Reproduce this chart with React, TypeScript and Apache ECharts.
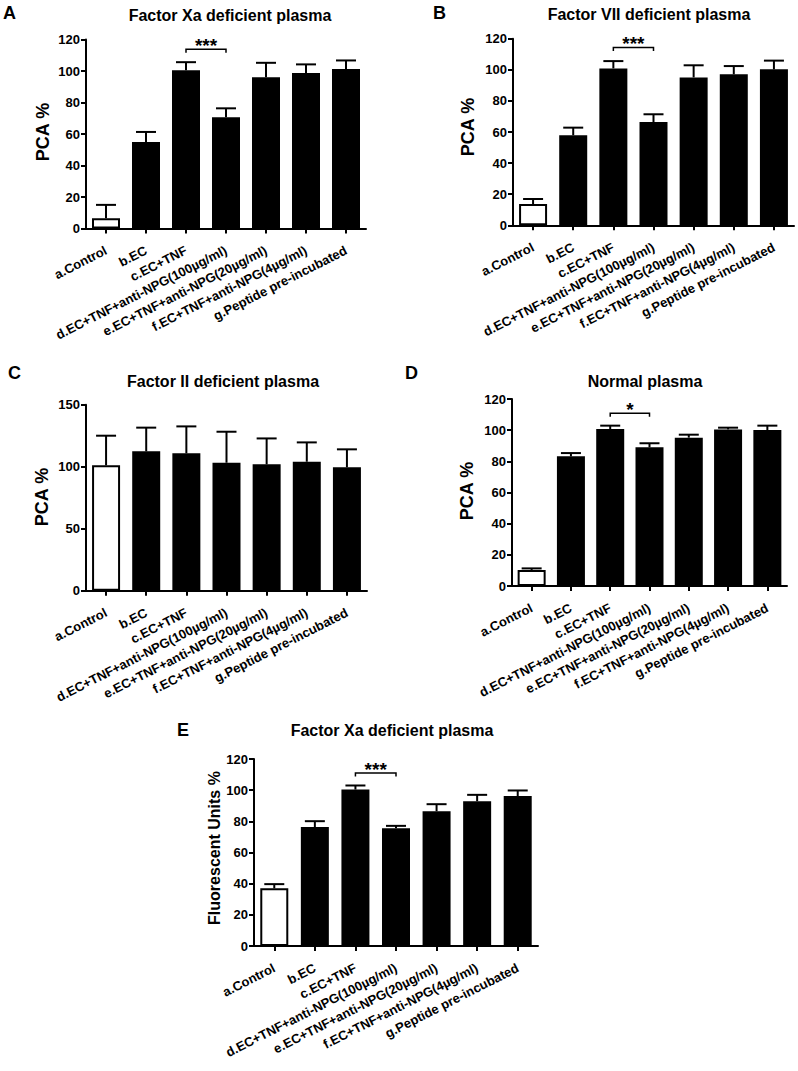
import React, { useEffect, useRef } from "react";
import * as echarts from "echarts";

const categories = [
  "a.Control",
  "b.EC",
  "c.EC+TNF",
  "d.EC+TNF+anti-NPG(100\u00B5g/ml)",
  "e.EC+TNF+anti-NPG(20\u00B5g/ml)",
  "f.EC+TNF+anti-NPG(4\u00B5g/ml)",
  "g.Peptide pre-incubated",
];

const meansA = [6.5, 54.9, 100.4, 70.6, 96.1, 98.7, 101.2];
const errsA = [8.5, 6.4, 5.2, 5.7, 9.1, 5.5, 5.5];
const meansB = [13.7, 57.9, 100.9, 66.4, 95.1, 97.1, 100.3];
const errsB = [3.2, 4.9, 4.7, 5.0, 7.8, 5.3, 5.6];
const meansC = [101.1, 112.4, 110.8, 103.2, 101.9, 104.0, 99.5];
const errsC = [23.9, 19.1, 21.7, 25.0, 20.9, 15.6, 14.5];
const meansD = [10.3, 83.2, 100.7, 89.0, 95.2, 100.5, 100.1];
const errsD = [1.0, 2.1, 2.2, 2.6, 1.9, 1.1, 2.8];
const meansE = [37.0, 76.3, 100.4, 75.6, 86.5, 92.9, 96.2];
const errsE = [2.7, 3.8, 2.6, 1.5, 4.5, 4.1, 3.6];

// significance brackets: [fromIndex, toIndex, level]
const bracketA = [2, 3, 113.8];
const bracketB = [2, 3, 114.4];
const bracketD = [2, 3, 110.8];
const bracketE = [2, 3, 111.0];
const starsA = "***";
const starsB = "***";
const starsD = "*";
const starsE = "***";

const yMaxes = [120, 120, 150, 120, 120];
const yIntervals = [20, 20, 50, 20, 20];

const panelTitles = [
  "Factor Xa deficient plasma",
  "Factor VII deficient plasma",
  "Factor II deficient plasma",
  "Normal plasma",
  "Factor Xa deficient plasma",
];
const panelLetters = ["A", "B", "C", "D", "E"];
const yNames = ["PCA %", "PCA %", "PCA %", "PCA %", "Fluorescent Units %"];

const FONT = "Liberation Sans, Arial, Helvetica, sans-serif";

export default function App() {
  const ref = useRef<HTMLDivElement>(null);

  useEffect(() => {
    if (!ref.current) return;
    const chart = echarts.init(ref.current, undefined, { renderer: "svg" });

    const grids = [
      { left: 86, top: 39.5, width: 280, height: 189 },
      { left: 513, top: 38.7, width: 281, height: 186.6 },
      { left: 86, top: 404.7, width: 281, height: 186 },
      { left: 512, top: 399, width: 275, height: 187 },
      { left: 254, top: 759, width: 284, height: 187 },
    ];

    const means = [meansA, meansB, meansC, meansD, meansE];
    const errs = [errsA, errsB, errsC, errsD, errsE];
    const brackets: any[] = [
      [0, bracketA, starsA],
      [1, bracketB, starsB],
      [3, bracketD, starsD],
      [4, bracketE, starsE],
    ];

    const xAxes = grids.map((_, gi) => ({
      type: "category",
      gridIndex: gi,
      data: categories,
      boundaryGap: true,
      axisLine: { show: true, lineStyle: { color: "#000", width: 2 } },
      axisTick: {
        show: true,
        alignWithLabel: true,
        length: 5,
        lineStyle: { color: "#000", width: 2 },
      },
      axisLabel: {
        interval: 0,
        rotate: 27,
        margin: 21,
        color: "#000",
        fontFamily: FONT,
        fontWeight: "bold",
        fontSize: 13,
      },
      splitLine: { show: false },
    }));

    const yAxes = grids.map((_, gi) => ({
      type: "value",
      gridIndex: gi,
      min: 0,
      max: yMaxes[gi],
      interval: yIntervals[gi],
      axisLine: { show: true, lineStyle: { color: "#000", width: 2 } },
      axisTick: { show: true, length: 5, lineStyle: { color: "#000", width: 2 } },
      axisLabel: {
        margin: 6,
        color: "#000",
        fontFamily: FONT,
        fontWeight: "bold",
        fontSize: 13,
      },
      splitLine: { show: false },
    }));

    const series: any[] = [];
    grids.forEach((_, gi) => {
      series.push({
        type: "bar",
        xAxisIndex: gi,
        yAxisIndex: gi,
        barWidth: 28,
        data: means[gi].map((v, i) =>
          i === 0
            ? { value: v, itemStyle: { color: "#fff", borderColor: "#000", borderWidth: 2 } }
            : { value: v, itemStyle: { color: "#000" } }
        ),
      });
      series.push({
        type: "custom",
        xAxisIndex: gi,
        yAxisIndex: gi,
        clip: false,
        z: 3,
        data: means[gi].map((v, i) => [i, v, errs[gi][i]]),
        renderItem: (params: any, api: any) => {
          const i = api.value(0);
          const v = api.value(1);
          const e = api.value(2);
          const b = api.coord([i, v]);
          const t = api.coord([i, v + e]);
          return {
            type: "group",
            children: [
              {
                type: "line",
                shape: { x1: b[0], y1: b[1], x2: t[0], y2: t[1] },
                style: { stroke: "#000", lineWidth: 2 },
              },
              {
                type: "line",
                shape: { x1: t[0] - 10, y1: t[1], x2: t[0] + 10, y2: t[1] },
                style: { stroke: "#000", lineWidth: 2 },
              },
            ],
          };
        },
      });
    });

    brackets.forEach(([gi, br, stars]) => {
      series.push({
        type: "custom",
        xAxisIndex: gi,
        yAxisIndex: gi,
        clip: false,
        z: 4,
        data: [br],
        renderItem: (params: any, api: any) => {
          const p1 = api.coord([api.value(0), api.value(2)]);
          const p2 = api.coord([api.value(1), api.value(2)]);
          return {
            type: "group",
            children: [
              {
                type: "polyline",
                shape: {
                  points: [
                    [p1[0], p1[1] + 3.5],
                    [p1[0], p1[1]],
                    [p2[0], p1[1]],
                    [p2[0], p1[1] + 3.5],
                  ],
                },
                style: { stroke: "#000", lineWidth: 1.5, fill: "none" },
              },
              {
                type: "text",
                x: (p1[0] + p2[0]) / 2,
                y: p1[1] + 6,
                style: {
                  text: stars,
                  textAlign: "center",
                  textVerticalAlign: "bottom",
                  font: `bold 19px ${FONT}`,
                  fill: "#000",
                },
              },
            ],
          };
        },
      });
    });

    const titlePos = [
      [230, 15],
      [649, 14],
      [223, 381],
      [645, 381],
      [392, 730],
    ];
    const letterPos = [
      [3, 13],
      [433, 13],
      [8, 373],
      [405, 373],
      [177, 730],
    ];
    const yNamePos = [
      [43, 132],
      [468, 127],
      [42, 497],
      [467, 491],
      [214, 848],
    ];

    const graphics: any[] = [];
    grids.forEach((_, gi) => {
      graphics.push({
        type: "text",
        x: titlePos[gi][0],
        y: titlePos[gi][1],
        style: {
          text: panelTitles[gi],
          textAlign: "center",
          textVerticalAlign: "middle",
          font: `bold 16px ${FONT}`,
          fill: "#000",
        },
      });
      graphics.push({
        type: "text",
        x: letterPos[gi][0],
        y: letterPos[gi][1],
        style: {
          text: panelLetters[gi],
          textAlign: "left",
          textVerticalAlign: "middle",
          font: `bold 18px ${FONT}`,
          fill: "#000",
        },
      });
      graphics.push({
        type: "text",
        x: yNamePos[gi][0],
        y: yNamePos[gi][1],
        rotation: Math.PI / 2,
        style: {
          text: yNames[gi],
          textAlign: "center",
          textVerticalAlign: "middle",
          font: gi === 4 ? `bold 16px ${FONT}` : `bold 18px ${FONT}`,
          fill: "#000",
        },
      });
    });

    chart.setOption({
      animation: false,
      backgroundColor: "#fff",
      grid: grids.map((g) => ({ ...g, containLabel: false, outerBoundsMode: "none" })),
      xAxis: xAxes,
      yAxis: yAxes,
      series,
      graphic: graphics,
    });

    return () => chart.dispose();
  }, []);

  return (
    <div
      ref={ref}
      style={{ position: "absolute", left: 0, top: 0, width: 798, height: 1071 }}
    />
  );
}
